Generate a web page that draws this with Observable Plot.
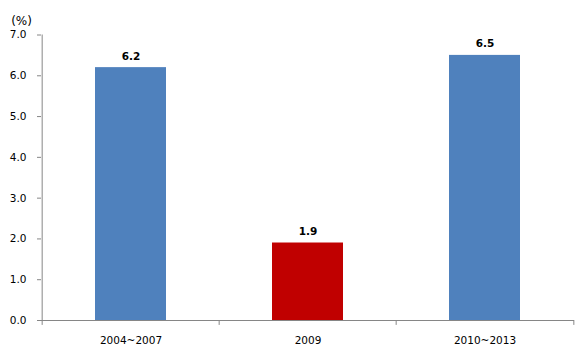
<!DOCTYPE html>
<html>
<head>
<meta charset="utf-8">
<script src="https://cdn.jsdelivr.net/npm/d3@7"></script>
<script src="https://cdn.jsdelivr.net/npm/@observablehq/plot@0.6"></script>
<style>
  html, body { margin: 0; padding: 0; background: #fff; }
  #chart svg { display: block; }
</style>
</head>
<body>
<div id="chart"></div>
<script>
const categories = ["2004~2007", "2009", "2010~2013"];
const values = [6.2, 1.9, 6.5];
const barColors = ["#4F81BD", "#C00000", "#4F81BD"];
const yTicks = [0, 1, 2, 3, 4, 5, 6, 7];
const unitLabel = "(%)";

const data = categories.map((c, i) => ({ cat: c, value: values[i], color: barColors[i] }));

const W = 583, H = 358;
const mL = 41, mR = 9, mT = 34.5, mB = 38;
const step = (W - mL - mR) / categories.length;
const axisGrey = "#868686";
const font = "DejaVu Sans, Verdana, sans-serif";

const chart = Plot.plot({
  width: W,
  height: H,
  marginLeft: mL,
  marginRight: mR,
  marginTop: mT,
  marginBottom: mB,
  style: { fontFamily: font, fontSize: "10.5px", color: "black", background: "white" },
  x: { domain: categories, paddingInner: 0.6, paddingOuter: 0.3, axis: null },
  y: { domain: [0, 7], axis: null },
  marks: [
    Plot.barY(data, { x: "cat", y: "value", fill: "color" }),
    Plot.ruleY([0], { stroke: axisGrey }),
    Plot.ruleX(categories, { x: d => d, y1: 0, y2: -0.12, dx: -step / 2, stroke: axisGrey }),
    Plot.ruleX([categories[categories.length - 1]], { x: d => d, y1: 0, y2: -0.12, dx: step / 2, stroke: axisGrey }),
    Plot.ruleX([categories[0]], { x: d => d, y1: 0, y2: 7, dx: -step / 2, stroke: axisGrey }),
    Plot.axisY({
      ticks: yTicks,
      tickFormat: d => d.toFixed(1),
      tickSize: 4,
      tickPadding: 11,
      stroke: axisGrey,
      fill: "black",
      label: null
    }),
    Plot.axisX({
      tickSize: 0,
      tickPadding: 16,
      fill: "black",
      label: null
    }),
    Plot.text(data, {
      x: "cat",
      y: "value",
      text: d => d.value.toFixed(1),
      lineAnchor: "bottom",
      dy: -8,
      fontWeight: "bold",
      fill: "black"
    }),
    Plot.text([unitLabel], {
      frameAnchor: "top-left",
      text: d => d,
      textAnchor: "middle",
      dx: -20,
      dy: -18.5,
      fill: "black",
      fontSize: 12
    })
  ]
});

document.getElementById("chart").appendChild(chart);
</script>
</body>
</html>
